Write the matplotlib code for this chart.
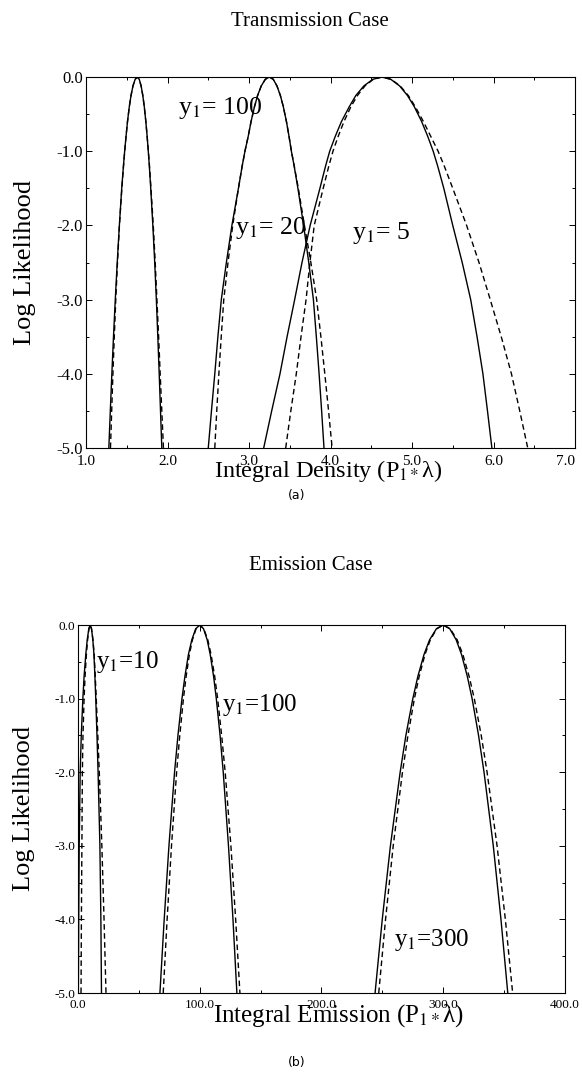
import matplotlib
matplotlib.use("Agg")
import matplotlib.pyplot as plt
from matplotlib.ticker import MultipleLocator, FormatStrFormatter

plt.rcParams['font.family'] = ['Liberation Serif', 'DejaVu Serif']
plt.rcParams['mathtext.fontset'] = 'stix'

# log likelihood levels (left side, peak, right side)
# finer set for the transmission panel, coarser one for emission
ll_a = [-5, -4.5, -4, -3.5, -3, -2.5, -2, -1.5, -1.2, -1, -0.8, -0.6, -0.4, -0.25, -0.12, -0.03, 0,
        -0.03, -0.12, -0.25, -0.4, -0.6, -0.8, -1, -1.2, -1.5, -2, -2.5, -3, -3.5, -4, -4.5, -5]
ll_b = [-5, -4, -3, -2, -1.5, -1, -0.7, -0.4, -0.2, -0.05, 0,
        -0.05, -0.2, -0.4, -0.7, -1, -1.5, -2, -3, -4, -5]

# (a) transmission case, x = integral density
t100_solid = [1.28, 1.298, 1.317, 1.337, 1.359, 1.383, 1.409, 1.438, 1.459, 1.474, 1.491, 1.509, 1.531, 1.552, 1.576, 1.603,
              1.63,
              1.653, 1.676, 1.697, 1.715, 1.734, 1.75, 1.764, 1.777, 1.794, 1.82, 1.843, 1.863, 1.881, 1.898, 1.914, 1.93]
t100_dash = [1.30, 1.315, 1.33, 1.347, 1.365, 1.386, 1.41, 1.44, 1.46, 1.475, 1.491, 1.509, 1.531, 1.552, 1.576, 1.603,
             1.63,
             1.653, 1.676, 1.697, 1.715, 1.734, 1.75, 1.765, 1.779, 1.797, 1.825, 1.849, 1.87, 1.891, 1.91, 1.93, 1.95]
t20_solid = [2.50, 2.539, 2.58, 2.618, 2.66, 2.722, 2.79, 2.87, 2.916, 2.95, 2.99, 3.025, 3.067, 3.105, 3.15, 3.20,
             3.25,
             3.297, 3.343, 3.385, 3.421, 3.459, 3.491, 3.52, 3.554, 3.60, 3.67, 3.733, 3.79, 3.826, 3.86, 3.891, 3.92]
t20_dash = [2.58, 2.604, 2.63, 2.659, 2.69, 2.742, 2.80, 2.87, 2.916, 2.95, 2.99, 3.025, 3.067, 3.105, 3.15, 3.20,
            3.25,
            3.297, 3.343, 3.385, 3.421, 3.459, 3.491, 3.52, 3.555, 3.605, 3.68, 3.759, 3.83, 3.882, 3.93, 3.976, 4.02]
t5_solid = [3.18, 3.278, 3.38, 3.467, 3.56, 3.65, 3.75, 3.87, 3.939, 3.99, 4.058, 4.134, 4.23, 4.31, 4.409, 4.52,
            4.63,
            4.739, 4.848, 4.945, 5.028, 5.118, 5.193, 5.26, 5.315, 5.39, 5.50, 5.616, 5.72, 5.798, 5.87, 5.926, 5.98]
t5_dash = [3.45, 3.513, 3.58, 3.638, 3.70, 3.747, 3.80, 3.91, 3.979, 4.03, 4.094, 4.165, 4.25, 4.33, 4.422, 4.526,
           4.63,
           4.742, 4.855, 4.955, 5.04, 5.14, 5.23, 5.32, 5.396, 5.50, 5.67, 5.822, 5.96, 6.095, 6.22, 6.322, 6.42]

# (b) emission case, x = integral emission
e10_solid = [0.3, 0.6, 1.0, 1.8, 2.7, 4.0, 5.0, 6.4, 7.6, 8.9, 10,
             11.1, 12.2, 13.1, 13.9, 14.6, 15.6, 16.5, 18.0, 18.8, 19.3]
e10_dash = [2.5, 2.8, 3.2, 3.6, 4.1, 5.0, 5.8, 6.9, 7.9, 9.0, 10,
            11.1, 12.3, 13.3, 14.2, 15.0, 16.3, 17.5, 19.6, 21.4, 23.0]
e100_solid = [67.3, 70.8, 74.7, 79.3, 82.1, 85.4, 87.8, 90.7, 93.5, 96.7, 100,
              103.1, 106.1, 108.6, 111.4, 113.6, 116.7, 119.3, 123.6, 127.3, 130.5]
e100_dash = [70, 73.2, 76.8, 81, 83.6, 86.6, 88.8, 91.5, 94, 97, 100,
             103.3, 106.6, 109.3, 112.3, 114.7, 118, 120.9, 125.6, 129.5, 133]
e300_solid = [244, 249.9, 256.6, 264.6, 269.3, 275, 279.1, 284.2, 288.8, 294.4, 300,
              305.3, 310.6, 315.0, 319.8, 323.7, 329.0, 333.5, 341.1, 347.4, 353]
e300_dash = [247, 252.6, 258.9, 266.5, 271, 276.3, 280.2, 285, 289.4, 294.7, 300,
             305.7, 311.4, 316.1, 321.3, 325.5, 331.2, 336, 344.2, 351, 357]

density_ticks = [1, 2, 3, 4, 5, 6, 7]
emission_ticks = [0, 100, 200, 300, 400]


def style_axes(ax, xticks, xmin, ylab_size, xlab_size, xpad):
    ax.set_ylim(-5, 0)
    ax.set_xlim(xticks[0], xticks[-1])
    ax.set_xticks(xticks, ['%.1f' % t for t in xticks])
    ax.xaxis.set_minor_locator(MultipleLocator(xmin))
    ax.yaxis.set_major_locator(MultipleLocator(1))
    ax.yaxis.set_minor_locator(MultipleLocator(0.5))
    ax.yaxis.set_major_formatter(FormatStrFormatter('%.1f'))
    ax.tick_params(which='both', direction='in', top=True, right=True, width=0.7)
    ax.tick_params(which='major', length=4)
    ax.tick_params(which='minor', length=2)
    ax.tick_params(axis='y', labelsize=ylab_size, pad=2)
    ax.tick_params(axis='x', labelsize=xlab_size, pad=xpad)
    for s in ax.spines.values():
        s.set_linewidth(0.8)


def draw(ax, levels, solid, dash):
    ax.plot(solid, levels, color='black', lw=1.0)
    ax.plot(dash, levels, color='black', lw=1.0, dashes=(4, 2.5))


fig = plt.figure(figsize=(5.82, 10.76), dpi=100)

# ---- transmission
ax1 = fig.add_axes([0.1478, 0.5836, 0.988 - 0.1478, 0.9284 - 0.5836])
draw(ax1, ll_a, t100_solid, t100_dash)
draw(ax1, ll_a, t20_solid, t20_dash)
draw(ax1, ll_a, t5_solid, t5_dash)
style_axes(ax1, density_ticks, 0.5, 12, 11, 5)
ax1.get_xticklabels()[-1].set_horizontalalignment('right')
ax1.text(2.13, -0.42, 'y$_1$= 100', fontsize=18.5, va='center')
ax1.text(2.83, -2.03, 'y$_1$= 20', fontsize=18.5, va='center')
ax1.text(4.26, -2.10, 'y$_1$= 5', fontsize=18.5, va='center')

fig.text(0.533, 0.9796, 'Transmission Case', fontsize=15, ha='center', va='center')
fig.text(0.5636, 0.5625, r'Integral Density (P$_{1*}$λ)', fontsize=17.5, ha='center', va='center')
fig.text(0.043, 0.7565, 'Log Likelihood', fontsize=19, rotation=90, ha='center', va='center')
fig.text(0.510, 0.5395, '(a)', fontsize=9, ha='center', va='center', family='DejaVu Sans')

# ---- emission
ax2 = fig.add_axes([0.134, 0.0771, 0.9708 - 0.134, 0.4191 - 0.0771])
draw(ax2, ll_b, e10_solid, e10_dash)
draw(ax2, ll_b, e100_solid, e100_dash)
draw(ax2, ll_b, e300_solid, e300_dash)
style_axes(ax2, emission_ticks, 50, 9.5, 9.5, 4)
ax2.text(14.8, -0.50, 'y$_1$=10', fontsize=18, va='center')
ax2.text(118, -1.09, 'y$_1$=100', fontsize=18, va='center')
ax2.text(259.5, -4.28, 'y$_1$=300', fontsize=18, va='center')

fig.text(0.534, 0.4749, 'Emission Case', fontsize=15, ha='center', va='center')
fig.text(0.581, 0.0565, r'Integral Emission (P$_{1*}$λ)', fontsize=18, ha='center', va='center')
fig.text(0.041, 0.249, 'Log Likelihood', fontsize=19, rotation=90, ha='center', va='center')
fig.text(0.510, 0.0121, '(b)', fontsize=9, ha='center', va='center', family='DejaVu Sans')

fig.savefig('out.png', dpi=100)
